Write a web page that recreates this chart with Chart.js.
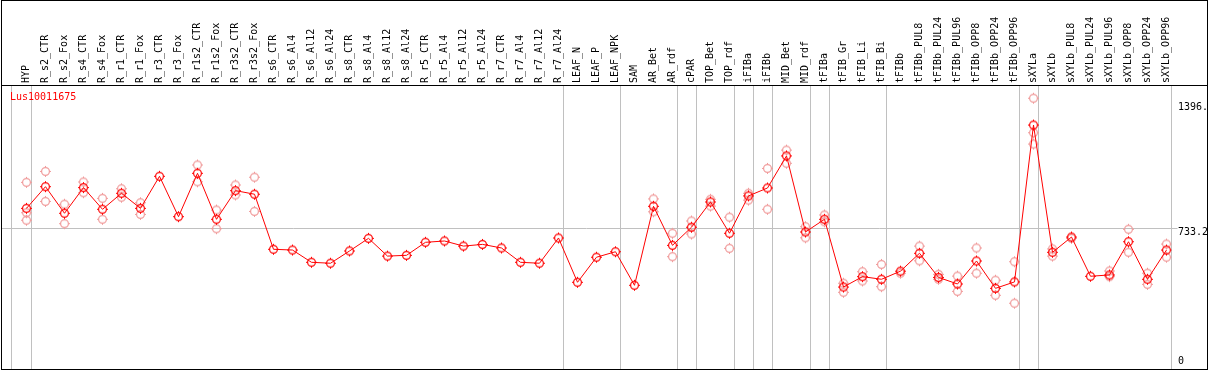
<!DOCTYPE html>
<html>
<head>
<meta charset="utf-8">
<script src="https://cdn.jsdelivr.net/npm/chart.js@4/dist/chart.umd.min.js"></script>
<style>
  html, body { margin: 0; padding: 0; background: #fff; overflow: hidden; }
  #wrap { position: relative; width: 1209px; height: 370px; }
  #c { position: absolute; left: 0; top: 0; }
  #frame { position: absolute; left: 1px; top: 0; width: 1207px; height: 370px; box-sizing: border-box; border: 1px solid #000; pointer-events: none; }
  #hdr { position: absolute; left: 1px; top: 85px; width: 1207px; height: 1px; background: #000; pointer-events: none; }
  #gene { position: absolute; left: 10px; top: 91px; font: 10px/12px 'DejaVu Sans Mono', monospace; color: #ff0000; pointer-events: none; }
</style>
</head>
<body>
<div id="wrap">
  <canvas id="c" width="1209" height="370"></canvas>
  <div id="frame"></div>
  <div id="hdr"></div>
  <div id="gene">Lus10011675</div>
</div>
<script>
// ---- data ----
const categories = [
  'HYP','R_s2_CTR','R_s2_Fox','R_s4_CTR','R_s4_Fox','R_r1_CTR','R_r1_Fox','R_r3_CTR','R_r3_Fox',
  'R_r1s2_CTR','R_r1s2_Fox','R_r3s2_CTR','R_r3s2_Fox','R_s6_CTR','R_s6_Al4','R_s6_Al12','R_s6_Al24',
  'R_s8_CTR','R_s8_Al4','R_s8_Al12','R_s8_Al24','R_r5_CTR','R_r5_Al4','R_r5_Al12','R_r5_Al24',
  'R_r7_CTR','R_r7_Al4','R_r7_Al12','R_r7_Al24','LEAF_N','LEAF_P','LEAF_NPK','SAM','AR_Bet','AR_rdf',
  'cPAR','TOP_Bet','TOP_rdf','iFIBa','iFIBb','MID_Bet','MID_rdf','tFIBa','tFIB_Gr','tFIB_Li','tFIB_Bi',
  'tFIBb','tFIBb_PUL8','tFIBb_PUL24','tFIBb_PUL96','tFIBb_OPP8','tFIBb_OPP24','tFIBb_OPP96',
  'sXYLa','sXYLb','sXYLb_PUL8','sXYLb_PUL24','sXYLb_PUL96','sXYLb_OPP8','sXYLb_OPP24','sXYLb_OPP96'
];
const meanValues = [
  839, 954, 813, 949, 834, 919, 839, 1009, 795, 1025, 781, 933, 914,
  622, 618, 553, 548, 613, 680, 586, 590, 659, 666, 639, 648, 629, 553, 548, 682,
  447, 580, 609, 431, 850, 643, 739, 873, 707, 905, 947, 1117, 714, 781,
  422, 477, 463, 506, 601, 473, 438, 560, 415, 449,
  1281, 606, 687, 479, 486, 662, 463, 618
];
const replicateValues = [
  [977, 816, 776], [1035, 876], [861, 758], [979, 922], [892, 781], [943, 898], [869, 807],
  [], [], [1069, 980], [830, 731], [963, 910], [1004, 823],
  [], [], [], [], [], [], [], [], [], [], [], [], [], [], [], [],
  [], [], [], [],
  [889, 821], [707, 583], [772, 703], [887, 851], [792, 627], [919, 883], [1051, 834],
  [1148, 1078], [742, 683], [804, 768], [442, 394], [503, 454], [542, 424], [495],
  [639, 561], [489, 463], [480, 399], [629, 495], [458, 378], [556, 336],
  [1423, 1240, 1180], [624, 586], [680], [], [507, 477], [728, 606], [495, 436], [650, 580]
];
const groupLastIndex = [-1, 0, 28, 31, 34, 35, 37, 38, 39, 41, 42, 45, 52, 53, 60];
const yTickValues = [0, 733.2, 1396];
const yTickLabels = ['0', '733.2', '1396.'];
const geneName = 'Lus10011675';

// ---- markers ----
function marker(color) {
  const c = document.createElement('canvas');
  c.width = 13; c.height = 13;
  const g = c.getContext('2d');
  g.strokeStyle = color;
  g.lineWidth = 1.2;
  g.beginPath(); g.arc(6.5, 6.5, 3.9, 0, Math.PI * 2); g.stroke();
  g.fillStyle = color;
  g.fillRect(6, 1, 1, 1);
  g.fillRect(6, 11, 1, 1);
  g.fillRect(1, 6, 1, 1);
  g.fillRect(11, 6, 1, 1);
  return c;
}
const meanMarker = marker('#ff0000');
const repMarker = marker('#f09a9a');

const meanData = meanValues.map((v, i) => ({ x: i, y: v }));
const repData = [];
replicateValues.forEach((arr, i) => arr.forEach(v => repData.push({ x: i, y: v })));

const boundaryOffset = 4.5 / 19;
const boundaries = groupLastIndex.map(i => i + boundaryOffset);
const xMin = -25.5 / 19;
const xMax = xMin + 1170.5 / 19;

Chart.defaults.font.family = "'DejaVu Sans Mono', monospace";
Chart.defaults.font.size = 10;
Chart.defaults.color = '#000';

function noPad(s) { s.paddingLeft = 0; s.paddingRight = 0; s.paddingTop = 0; s.paddingBottom = 0; }

new Chart(document.getElementById('c'), {
  type: 'scatter',
  data: {
    datasets: [
      { label: geneName, data: meanData, showLine: true, borderColor: '#ff0000', borderWidth: 1, tension: 0,
        pointStyle: meanMarker, pointRadius: 4, pointHoverRadius: 4, xAxisID: 'x', yAxisID: 'y' },
      { label: 'replicates', data: repData, showLine: false, pointStyle: repMarker, pointRadius: 4,
        pointHoverRadius: 4, xAxisID: 'x', yAxisID: 'y' }
    ]
  },
  options: {
    responsive: false,
    animation: false,
    devicePixelRatio: 1,
    layout: { autoPadding: false, padding: { left: 1, right: 0, top: 0, bottom: 1 } },
    plugins: { legend: { display: false }, tooltip: { enabled: false }, title: { display: false } },
    scales: {
      x: {
        type: 'linear', position: 'top', min: xMin, max: xMax,
        afterBuildTicks: s => { s.ticks = categories.map((_, i) => ({ value: i })); },
        afterFit: s => { s.height = 86; noPad(s); },
        grid: { display: false, drawTicks: false },
        border: { display: false },
        ticks: { autoSkip: false, minRotation: 90, maxRotation: 90, padding: 3, labelOffset: 12,
          font: { size: 10 }, color: '#000', callback: v => categories[v] }
      },
      x2: {
        type: 'linear', position: 'bottom', min: xMin, max: xMax,
        afterBuildTicks: s => { s.ticks = boundaries.map(v => ({ value: v })); },
        afterFit: s => { s.height = 0; noPad(s); },
        grid: { display: true, color: '#c0c0c0', lineWidth: 1, drawTicks: false },
        border: { display: false },
        ticks: { display: false }
      },
      y: {
        type: 'linear', position: 'right', min: -12.73, max: 1487.8,
        afterBuildTicks: s => { s.ticks = yTickValues.map(v => ({ value: v })); },
        afterFit: s => { s.width = 37.5; noPad(s); },
        grid: { color: ctx => (ctx.tick && ctx.tick.value === 733.2) ? '#c0c0c0' : 'rgba(0,0,0,0)',
          drawTicks: true, tickLength: 6, lineWidth: 1 },
        border: { display: false },
        ticks: { padding: 0.5, labelOffset: 4, font: { size: 10, lineHeight: 1.78 }, color: '#000',
          callback: v => { const k = yTickValues.indexOf(v); const t = k >= 0 ? yTickLabels[k] : ''; return v === 0 ? [t, ''] : t; } }
      }
    }
  }
});
</script>
</body>
</html>
